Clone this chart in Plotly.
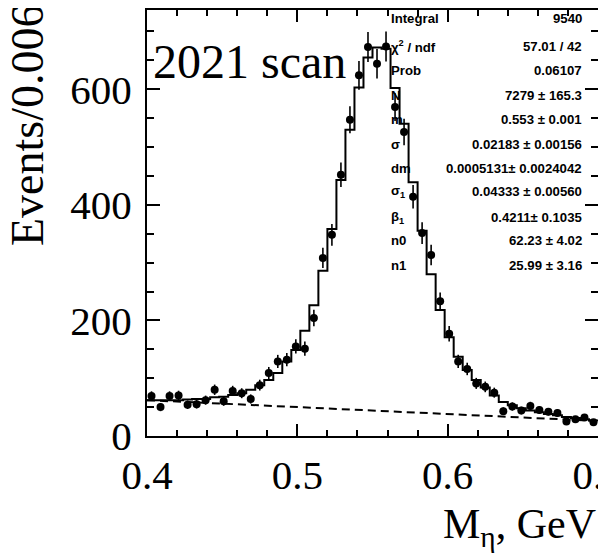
import numpy as np
import plotly.graph_objects as go

# ---- data ----
x_min, x_max, bin_width = 0.4, 0.7, 0.006
counts = [69, 50, 69, 70, 54, 55, 62, 80, 60, 78,
          74, 64, 88, 109, 129, 132, 155, 151, 204, 308,
          348, 452, 547, 624, 673, 644, 674, 569, 526, 414,
          351, 313, 233, 177, 129, 116, 91, 85, 75, 43,
          51, 44, 52, 45, 42, 40, 25, 29, 32, 24]
fit_counts = [62, 62, 62, 62, 63, 64, 64, 67, 68, 71,
              74, 80, 88, 97, 109, 129, 149, 182, 226, 286,
              358, 443, 530, 603, 655, 672, 670, 602, 540, 439,
              355, 280, 218, 171, 137, 114, 97, 84, 70, 59,
              53, 48, 44, 41, 38, 36, 33, 31, 29, 27]
bg_x = [0.4, 0.7]
bg_y = [62, 26]

x_ticks = [0.4, 0.5, 0.6, 0.7]
x_ticklabels = ["0.4", "0.5", "0.6", "0.7"]
y_ticks = [0, 200, 400, 600]
y_ticklabels = ["0", "200", "400", "600"]

stat_labels = ["Integral", "χ<sup>2</sup> / ndf", "Prob", "N", "m", "σ", "dm",
               "σ<sub>1</sub>", "β<sub>1</sub>", "n0", "n1"]
stat_values = ["9540", "57.01 / 42", "0.06107", "7279 ± 165.3", "0.553 ± 0.001",
               "0.02183 ± 0.00156", "0.0005131± 0.0024042", "0.04333 ± 0.00560",
               "0.4211± 0.1035", "62.23 ± 4.02", "25.99 ± 3.16"]

# ---- derived ----
n_bins = len(counts)
edges = np.linspace(x_min, x_max, n_bins + 1)
centers = 0.5 * (edges[:-1] + edges[1:])
errors = np.sqrt(np.array(counts, dtype=float))

# the page body has an 8px margin; lay the figure out in page pixels
OFF = 8
PAGE_W, PAGE_H = 606, 557
W, H = PAGE_W - OFF, PAGE_H - OFF
frame_left, frame_right, frame_top, frame_bottom = 147, 598, 10, 436
L = frame_left - OFF
R = W - (frame_right - OFF)
T = frame_top - OFF
B = H - (frame_bottom - OFF)
plot_w = frame_right - frame_left
plot_h = frame_bottom - frame_top
y_top = 737

def px2x(px):
    return (px - frame_left) / plot_w

def py2y(py):
    return (frame_bottom - py) / plot_h

fig = go.Figure()

fig.add_trace(go.Scatter(
    x=list(edges), y=list(fit_counts) + [fit_counts[-1]],
    mode="lines", line=dict(shape="hv", color="black", width=2),
    hoverinfo="skip", showlegend=False))

fig.add_trace(go.Scatter(
    x=bg_x, y=bg_y, mode="lines",
    line=dict(color="black", width=2, dash="8px,5px"),
    hoverinfo="skip", showlegend=False))

fig.add_trace(go.Scatter(
    x=centers, y=counts, mode="markers",
    marker=dict(symbol="circle", size=8, color="black"),
    error_y=dict(type="data", array=errors, visible=True,
                 color="black", thickness=1.6, width=0),
    showlegend=False))

serif = "Liberation Serif, Times New Roman, serif"
sans = "Liberation Sans, Arial, sans-serif"

fig.update_xaxes(
    range=[x_min, x_max], tickvals=x_ticks, ticktext=x_ticklabels,
    ticks="inside", ticklen=12, tickwidth=2, tickcolor="black",
    minor=dict(ticks="inside", dtick=0.02, ticklen=6, tickwidth=2, tickcolor="black"),
    showline=True, linewidth=2, linecolor="black", mirror="allticks",
    showgrid=False, zeroline=False, automargin=False,
    tickfont=dict(family=serif, size=41, color="black"),
    ticklabelstandoff=2, ticklabeloverflow="allow")

fig.update_yaxes(
    range=[0, y_top], tickvals=y_ticks, ticktext=y_ticklabels,
    ticks="inside", ticklen=13, tickwidth=2, tickcolor="black",
    minor=dict(ticks="inside", dtick=50, ticklen=7, tickwidth=2, tickcolor="black"),
    showline=True, linewidth=2, linecolor="black", mirror="allticks",
    showgrid=False, zeroline=False, automargin=False,
    tickfont=dict(family=serif, size=41, color="black"),
    ticklabelstandoff=5, ticklabeloverflow="allow")

annotations = []
annotations.append(dict(
    text="Events/0.006", xref="paper", yref="paper",
    x=px2x(27), y=py2y(126), xanchor="center", yanchor="middle",
    textangle=-90, showarrow=False,
    font=dict(family=serif, size=46, color="black")))
annotations.append(dict(
    text="M<sub>η</sub>, GeV", xref="paper", yref="paper",
    x=px2x(598), y=py2y(527), xanchor="right", yanchor="middle",
    showarrow=False, font=dict(family=serif, size=42, color="black")))
annotations.append(dict(
    text="2021 scan", xref="paper", yref="paper",
    x=px2x(151), y=py2y(62), xanchor="left", yanchor="middle",
    showarrow=False, font=dict(family=serif, size=48, color="black")))

row_y = [19, 46, 70, 95, 119, 144, 168, 192, 217, 241, 265]
for lab, val, ry in zip(stat_labels, stat_values, row_y):
    annotations.append(dict(
        text="<b>" + lab + "</b>", xref="paper", yref="paper", x=px2x(389), y=py2y(ry),
        xanchor="left", yanchor="middle", showarrow=False,
        font=dict(family=sans, size=13.2, color="black")))
    annotations.append(dict(
        text="<b>" + val + "</b>", xref="paper", yref="paper", x=px2x(584), y=py2y(ry),
        xanchor="right", yanchor="middle", showarrow=False,
        font=dict(family=sans, size=13.2, color="black")))

fig.update_layout(
    width=W, height=H,
    margin=dict(l=L, r=R, t=T, b=B, pad=0, autoexpand=False),
    paper_bgcolor="white", plot_bgcolor="white",
    annotations=annotations, showlegend=False)

fig.write_html("out.html")
